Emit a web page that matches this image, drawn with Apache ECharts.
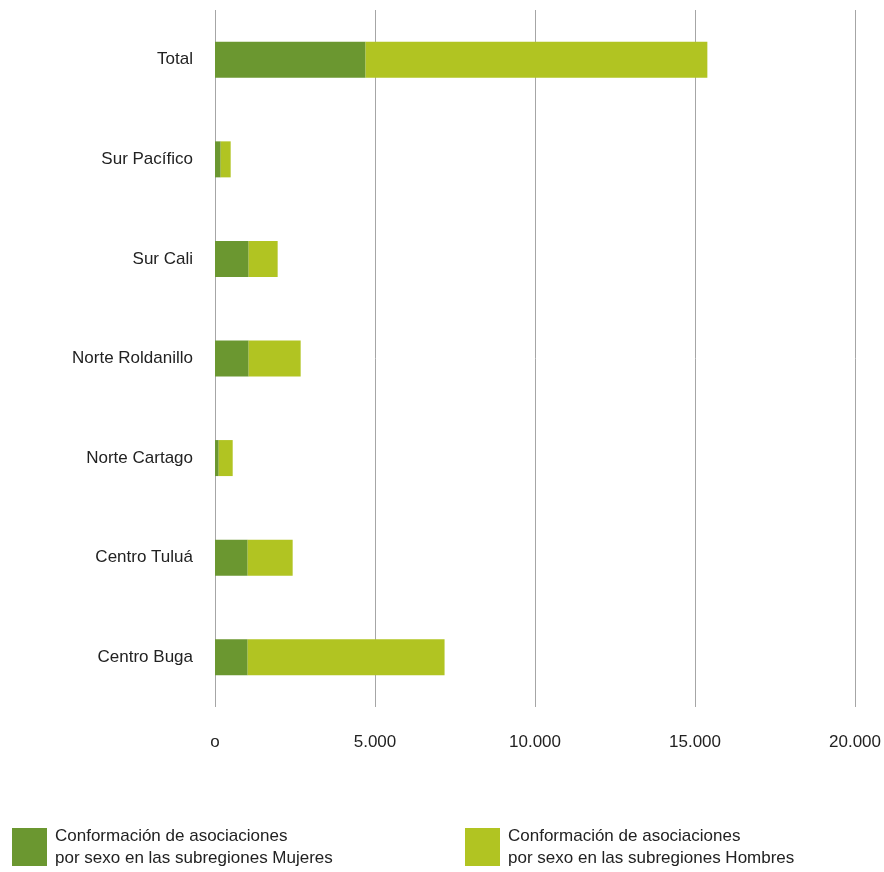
<!DOCTYPE html>
<html>
<head>
<meta charset="utf-8">
<script src="https://cdn.jsdelivr.net/npm/echarts@6/dist/echarts.min.js"></script>
<style>
html,body{margin:0;padding:0;background:#fff;}
#chart{width:884px;height:872px;}
</style>
</head>
<body>
<div id="chart"></div>
<script>
const categories = ['Centro Buga', 'Centro Tuluá', 'Norte Cartago', 'Norte Roldanillo', 'Sur Cali', 'Sur Pacífico', 'Total'];
const mujeres = [1021, 1021, 116, 1052, 1052, 178, 4706];
const hombres = [6153, 1406, 437, 1625, 906, 312, 10680];
const seriesNames = [
  'Conformación de asociaciones\npor sexo en las subregiones Mujeres',
  'Conformación de asociaciones\npor sexo en las subregiones Hombres'
];
const xTicks = { min: 0, max: 20000, interval: 5000 };

const colors = ['#6b9730', '#b1c422'];
const font = 'Liberation Sans, Arial, sans-serif';

const chart = echarts.init(document.getElementById('chart'), null, { renderer: 'canvas' });
const legendBase = {
  orient: 'horizontal',
  padding: 0,
  itemWidth: 35,
  itemHeight: 38,
  icon: 'rect',
  selectedMode: false,
  textStyle: { fontFamily: font, fontSize: 17, color: '#222', lineHeight: 22, padding: [0, 0, 0, 3] }
};
chart.setOption({
  animation: false,
  backgroundColor: '#fff',
  color: colors,
  grid: { left: 215, right: 28.5, top: 10, height: 697, containLabel: false },
  legend: [
    Object.assign({}, legendBase, { left: 12, top: 825, data: [seriesNames[0]] }),
    Object.assign({}, legendBase, { left: 465, top: 825, data: [seriesNames[1]] })
  ],
  xAxis: {
    type: 'value',
    min: xTicks.min,
    max: xTicks.max,
    interval: xTicks.interval,
    axisLine: { show: false },
    axisTick: { show: false },
    splitLine: { show: true, lineStyle: { color: '#a6a6a6', width: 1 } },
    axisLabel: {
      margin: 27,
      fontFamily: font,
      fontSize: 17,
      color: '#222',
      formatter: function (v) {
        if (v === 0) return 'o';
        return String(v).replace(/\B(?=(\d{3})+(?!\d))/g, '.');
      }
    }
  },
  yAxis: {
    type: 'category',
    data: categories,
    axisLine: { show: false },
    axisTick: { show: false },
    axisLabel: { margin: 22, fontFamily: font, fontSize: 17, color: '#222', padding: [0, 0, 7, 0] }
  },
  series: [
    { name: seriesNames[0], type: 'bar', stack: 'a', data: mujeres, barWidth: 36, itemStyle: { color: colors[0] } },
    { name: seriesNames[1], type: 'bar', stack: 'a', data: hombres, barWidth: 36, itemStyle: { color: colors[1] } }
  ]
});
</script>
</body>
</html>
